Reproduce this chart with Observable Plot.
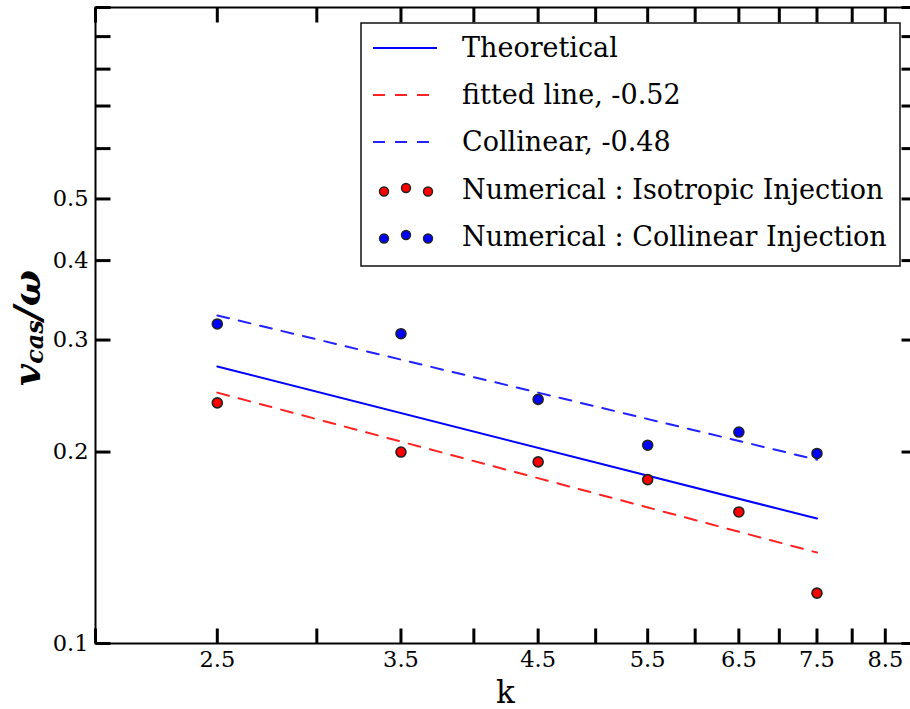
<!DOCTYPE html>
<html><head><meta charset="utf-8">
<script src="https://cdn.jsdelivr.net/npm/d3@7"></script>
<script src="https://cdn.jsdelivr.net/npm/@observablehq/plot@0.6"></script>
<style>
html,body{margin:0;padding:0;background:#fff;overflow:hidden;}
#chart{width:910px;height:709px;overflow:hidden;position:relative;}
#chart svg{max-width:none !important;width:930px;height:709px;}
</style></head><body><div id="chart"></div>
<script>
// ---- data ----
const kValues = [2.5, 3.5, 4.5, 5.5, 6.5, 7.5];
const isotropic = [0.239, 0.200, 0.193, 0.181, 0.161, 0.120];
const collinear = [0.318, 0.307, 0.242, 0.205, 0.215, 0.199];
const lineK = [2.5, 7.5];
const theoretical = [0.2726, 0.1572];
const fittedIso = [0.248, 0.139];
const fittedCol = [0.328, 0.1945];
const xDomain = [2, 9];
const yDomain = [0.1, 1];
const xLabelTicks = [2.5, 3.5, 4.5, 5.5, 6.5, 7.5, 8.5];
const xAllTicks = [2, 2.5, 3, 3.5, 4, 4.5, 5, 5.5, 6, 6.5, 7, 7.5, 8, 8.5, 9];
const yLabelTicks = [0.1, 0.2, 0.3, 0.4, 0.5];
const yAllTicks = [0.1, 0.2, 0.3, 0.4, 0.5, 0.6, 0.7, 0.8, 0.9, 1.0];
const legendLabels = ["Theoretical", "fitted line, -0.52", "Collinear, -0.48",
  "Numerical : Isotropic Injection", "Numerical : Collinear Injection"];

const isoPts = kValues.map((k, i) => ({k, v: isotropic[i]}));
const colPts = kValues.map((k, i) => ({k, v: collinear[i]}));
const theoLine = lineK.map((k, i) => ({k, v: theoretical[i]}));
const isoLine = lineK.map((k, i) => ({k, v: fittedIso[i]}));
const colLine = lineK.map((k, i) => ({k, v: fittedCol[i]}));

const FONT = "DejaVu Serif";
const tickShape = {draw(ctx, l) { ctx.moveTo(0, 0); ctx.lineTo(0, -l); }};
const tickOpts = {length: 15, anchor: "start", shape: tickShape, stroke: "black", strokeWidth: 3, strokeLinecap: "butt"};

const svg = Plot.plot({
  width: 930, height: 709,
  marginLeft: 95, marginRight: 14, marginTop: 7, marginBottom: 66,
  style: {fontFamily: FONT, background: "white", color: "black", overflow: "visible", maxWidth: "none"},
  x: {type: "log", domain: xDomain},
  y: {type: "log", domain: yDomain},
  marks: [
    Plot.line(theoLine, {x: "k", y: "v", stroke: "blue", strokeWidth: 2}),
    Plot.line(isoLine, {x: "k", y: "v", stroke: "#ff2222", strokeWidth: 2, strokeDasharray: "12,10"}),
    Plot.line(colLine, {x: "k", y: "v", stroke: "#2222ff", strokeWidth: 2, strokeDasharray: "12,10"}),
    Plot.dot(isoPts, {x: "k", y: "v", r: 5, fill: "red", stroke: "#222", strokeWidth: 1.6}),
    Plot.dot(colPts, {x: "k", y: "v", r: 5, fill: "blue", stroke: "#222", strokeWidth: 1.6}),
    Plot.frame({stroke: "black", strokeWidth: 2}),
    Plot.vector(xAllTicks, {x: d => d, y: () => yDomain[0], rotate: 0, ...tickOpts}),
    Plot.vector(xAllTicks, {x: d => d, y: () => yDomain[1], rotate: 180, ...tickOpts}),
    Plot.vector(yAllTicks, {x: () => xDomain[0], y: d => d, rotate: 90, ...tickOpts}),
    Plot.vector(yAllTicks, {x: () => xDomain[1], y: d => d, rotate: -90, ...tickOpts}),
    Plot.axisX({ticks: xLabelTicks, tickSize: 0, tickPadding: 8, tickFormat: d => d.toFixed(1), fontSize: 22.5, label: null}),
    Plot.axisY({ticks: yLabelTicks, tickSize: 0, tickPadding: 7, tickFormat: d => d.toFixed(1), fontSize: 22.5, label: null})
  ]
});
document.getElementById("chart").appendChild(svg);

const s = d3.select(svg);
const xs = svg.scale("x"), ys = svg.scale("y");
const xMid = (xs.range[0] + xs.range[1]) / 2;
const yMid = (ys.range[0] + ys.range[1]) / 2;

// x label
s.append("text").attr("x", xMid).attr("y", 703).attr("text-anchor", "middle")
  .attr("font-family", FONT).attr("font-size", 31).attr("fill", "black").text("k");

// y label with subscript
const yl = s.append("text").attr("transform", `translate(40,${yMid + 3}) rotate(-90)`)
  .attr("text-anchor", "middle").attr("font-family", FONT).attr("font-style", "italic")
  .attr("font-weight", "bold").attr("font-size", 38).attr("fill", "black");
yl.append("tspan").text("v");
yl.append("tspan").attr("font-size", 24).attr("dy", 3).text("cas");
yl.append("tspan").attr("dy", -3).text("/ω");

// legend
const lg = s.append("g").attr("font-family", FONT).attr("font-size", 27).attr("text-anchor", "start");
lg.append("rect").attr("x", 361).attr("y", 23).attr("width", 539).attr("height", 243)
  .attr("fill", "white").attr("stroke", "#111").attr("stroke-width", 1.5);
const rows = [48, 95, 142, 190, 237];
const styles = [
  {type: "line", stroke: "blue", dash: null},
  {type: "line", stroke: "#ff2222", dash: "12,10"},
  {type: "line", stroke: "#2222ff", dash: "12,10"},
  {type: "dots", fill: "red"},
  {type: "dots", fill: "blue"}
];
legendLabels.forEach((lab, i) => {
  const y = rows[i], st = styles[i];
  if (st.type === "line") {
    lg.append("line").attr("x1", 373).attr("x2", st.dash ? 429 : 437).attr("y1", y).attr("y2", y)
      .attr("stroke", st.stroke).attr("stroke-width", 2).attr("stroke-dasharray", st.dash);
  } else {
    [[384, 1.5], [406, -2], [428, 1.5]].forEach(([cx, dy]) => {
      lg.append("circle").attr("cx", cx).attr("cy", y + dy).attr("r", 4.5)
        .attr("fill", st.fill).attr("stroke", "#222").attr("stroke-width", 1.4);
    });
  }
  lg.append("text").attr("x", 462).attr("y", y).attr("dy", "0.35em").attr("fill", "black").text(lab);
});
</script>
</body></html>
